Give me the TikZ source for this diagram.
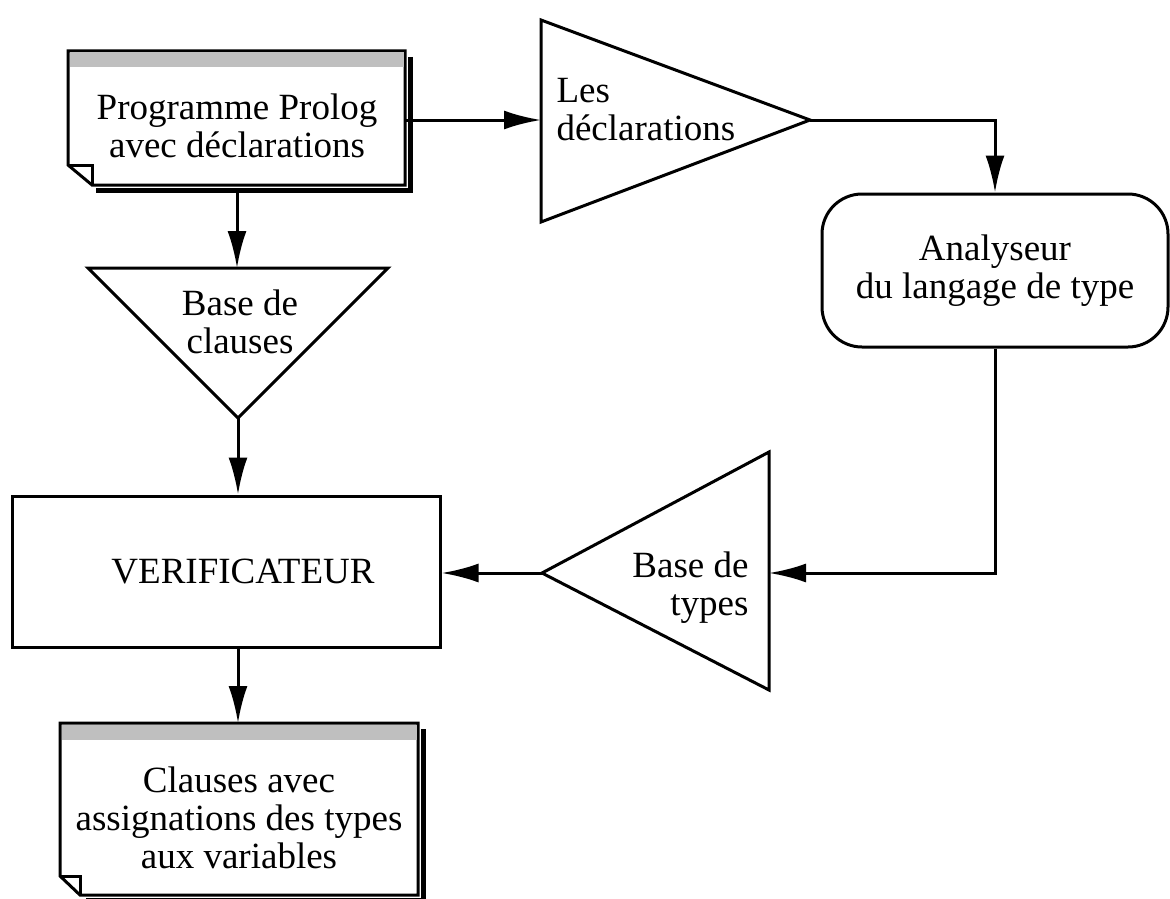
\documentclass[tikz,border=0pt]{standalone}
\usepackage{fontspec}
\setmainfont{Liberation Serif}
\usetikzlibrary{arrows.meta}
\tikzset{
  txt/.style={font=\fontsize{37}{38}\selectfont, inner sep=0pt},
  box/.style={draw, line width=3pt, font=\fontsize{37}{38}\selectfont, align=center},
  shadowline/.style={line width=5pt},
  bar/.style={fill=black!25}
}
\begin{document}
\begin{tikzpicture}[x=1pt, y=-1pt, line width=3pt, >={Latex[length=37pt,width=19pt]}]
  \useasboundingbox (0,0) rectangle (1170,899);

  % programme prolog (document)
  \draw[shadowline] (410,57) -- (410,190) -- (96,190);
  \filldraw[fill=white] (68,51) -- (405,51) -- (405,185) -- (92,185) -- (68,165) -- cycle;
  \fill[bar] (69.5,52.5) rectangle (403.5,67);
  \draw (68,165) -- (92,165) -- (92,185);
  \node[txt, align=center] (prog) at (237,126) {Programme Prolog\\avec déclarations};
  \coordinate (prog e) at (405,120);
  \coordinate (prog s) at (237,190);

  % les declarations
  \draw (541,20) -- (810,120) -- (541,222) -- cycle;
  \node[txt, align=left, anchor=west] (decl) at (555,110) {Les\\déclarations};
  \coordinate (decl w) at (541,120);
  \coordinate (decl tip) at (810,120);

  % base de clauses
  \draw (88,268) -- (388,268) -- (238,418) -- cycle;
  \node[txt, align=center] (clauses) at (240,322) {Base de\\clauses};
  \coordinate (clauses n) at (237,268);
  \coordinate (clauses tip) at (238,418);

  % analyseur
  \node[box, rounded corners=40pt, minimum width=346pt, minimum height=153pt] (anal) at (995,270.5) {Analyseur\\du langage de type};

  % base de types
  \draw (542,573) -- (769,452) -- (769,690) -- cycle;
  \node[txt, align=right, anchor=east] (types) at (750,588) {Base de\\types};
  \coordinate (types e) at (769,573);
  \coordinate (types tip) at (542,573);

  % verificateur
  \node[box, minimum width=428pt, minimum height=151pt] (verif) at (226,571.5) {\hspace*{34pt}VERIFICATEUR};

  % clauses avec assignations (document)
  \draw[shadowline] (423,729) -- (423,900) -- (86,900);
  \filldraw[fill=white] (60,723) -- (418,723) -- (418,895) -- (80,895) -- (60,876) -- cycle;
  \fill[bar] (61.5,724.5) rectangle (416.5,740);
  \draw (60,876) -- (80,876) -- (80,895);
  \node[txt, align=center] (result) at (239,818) {Clauses avec\\assignations des types\\aux variables};
  \coordinate (result n) at (238,723);

  % connexions
  \draw[->] (prog s) -- (clauses n);
  \draw[->] (clauses tip) -- (clauses tip |- verif.north);
  \draw[->] (verif.south -| result n) -- (result n);
  \draw[->] (prog e) -- (decl w);
  \draw[->] (decl tip) -| (anal.north);
  \draw[->] (anal.south) |- (types e);
  \draw[->] (types tip) -- (verif.east |- types tip);
\end{tikzpicture}
\end{document}
